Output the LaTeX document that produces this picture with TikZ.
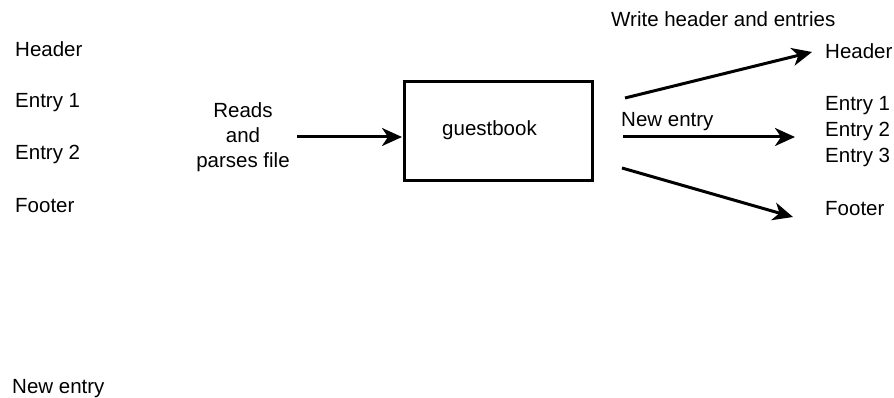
\documentclass[tikz,border=0pt]{standalone}
\usepackage{fontspec}
\setmainfont{Liberation Sans}
\usetikzlibrary{arrows.meta}
\begin{document}
\begin{tikzpicture}[x=1pt,y=-1pt,
  lbl/.style={inner sep=0pt,anchor=base west,font=\fontsize{20.5}{25}\selectfont},
  arr/.style={line width=3pt,-{Stealth[length=20pt,width=18pt,inset=6pt]}},
  boxst/.style={draw,line width=3pt,minimum width=188pt,minimum height=99pt,inner sep=0pt}]
\useasboundingbox (0,0) rectangle (894,398);
% left column
\node[lbl] (lh) at (15,57) {Header};
\node[lbl] (le1) at (15,108) {Entry 1};
\node[lbl] (le2) at (15,160) {Entry 2};
\node[lbl] (lf) at (15,213) {Footer};
\node[lbl] (ne) at (12,393) {New entry};
% reads text
\node[inner sep=0pt,anchor=base,align=center,font=\fontsize{20.5}{25.5}\selectfont] (reads) at (243,168) {Reads\\and\\parses file};
% box
\node[boxst] (gb) at (498,131.5) {};
\node[lbl] (gbt) at (442,136) {guestbook};
% right column
\node[lbl] (wh) at (611,27) {Write header and entries};
\node[lbl] (rh) at (825,59) {Header};
\node[lbl] (re1) at (825,111) {Entry 1};
\node[lbl] (re2) at (825,137) {Entry 2};
\node[lbl] (re3) at (825,163) {Entry 3};
\node[lbl] (rf) at (825,215) {Footer};
\node[lbl] (nel) at (621,127) {New entry};
% connector ends
\coordinate (a1s) at (297,137);
\coordinate (a1e) at (402,137);
\coordinate (a2s) at (625,98);
\coordinate (a2e) at (812,52);
\coordinate (a3s) at (623,137);
\coordinate (a3e) at (795,137);
\coordinate (a4s) at (622,168);
\coordinate (a4e) at (793,217);
\draw[arr] (a1s) -- (a1e);
\draw[arr] (a2s) -- (a2e);
\draw[arr] (a3s) -- (a3e);
\draw[arr] (a4s) -- (a4e);
\end{tikzpicture}
\end{document}
